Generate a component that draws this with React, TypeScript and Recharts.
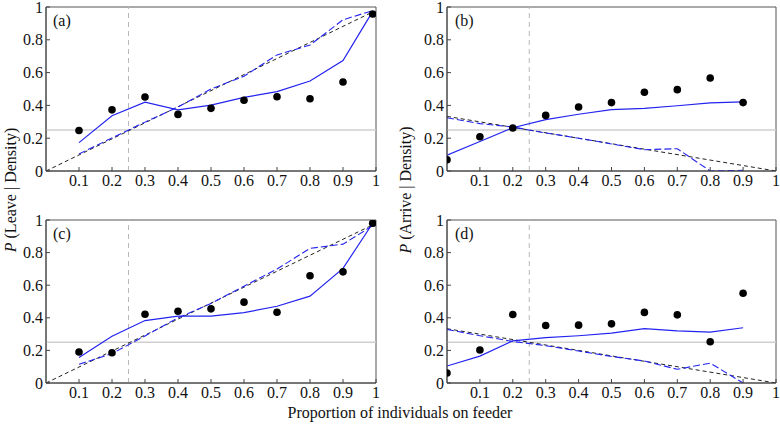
import React from 'react';
import { ComposedChart, Line, Scatter, XAxis, YAxis, ReferenceLine, ReferenceArea } from 'recharts';

// Categories (proportion of individuals on feeder)
const leaveX = [0.1, 0.2, 0.3, 0.4, 0.5, 0.6, 0.7, 0.8, 0.9, 0.99];
const arriveX = [0, 0.1, 0.2, 0.3, 0.4, 0.5, 0.6, 0.7, 0.8, 0.9];

// Panel (a)
const aObserved = [0.247, 0.373, 0.451, 0.345, 0.382, 0.431, 0.453, 0.441, 0.543, 0.957];
const aModel = [0.173, 0.337, 0.42, 0.373, 0.402, 0.449, 0.484, 0.549, 0.673, 0.973];
const aNull = [0.104, 0.202, 0.298, 0.39, 0.5, 0.578, 0.708, 0.768, 0.922, 0.978];
// Panel (b)
const bObserved = [0.069, 0.209, 0.262, 0.339, 0.39, 0.417, 0.48, 0.496, 0.567, 0.417];
const bModel = [0.096, 0.18, 0.264, 0.313, 0.346, 0.374, 0.382, 0.398, 0.415, 0.421];
const bNull = [0.325, 0.289, 0.268, 0.232, 0.2, 0.165, 0.13, 0.136, 0, 0.004];
// Panel (c)
const cObserved = [0.19, 0.186, 0.422, 0.44, 0.455, 0.496, 0.434, 0.658, 0.682, 0.98];
const cModel = [0.156, 0.287, 0.383, 0.41, 0.41, 0.432, 0.471, 0.533, 0.703, 0.98];
const cNull = [0.115, 0.18, 0.289, 0.4, 0.488, 0.594, 0.699, 0.826, 0.852, 0.965];
// Panel (d)
const dObserved = [0.061, 0.202, 0.42, 0.353, 0.355, 0.363, 0.433, 0.418, 0.253, 0.551];
const dModel = [0.104, 0.165, 0.259, 0.278, 0.29, 0.306, 0.333, 0.32, 0.312, 0.339];
const dNull = [0.329, 0.29, 0.255, 0.229, 0.196, 0.163, 0.135, 0.084, 0.122, 0];

// Expected (black dashed) lines
const leaveExpX = [0, 0.99];
const leaveExpY = [0, 0.97];
const arriveExpX = [0, 1];
const arriveExpY = [0.333, 0];

// Ticks
const xTicks = [0.1, 0.2, 0.3, 0.4, 0.5, 0.6, 0.7, 0.8, 0.9, 1];
const xTickLabels = ['0.1', '0.2', '0.3', '0.4', '0.5', '0.6', '0.7', '0.8', '0.9', '1'];
const yTicks = [0, 0.2, 0.4, 0.6, 0.8, 1];
const yTickLabels = ['0', '0.2', '0.4', '0.6', '0.8', '1'];

const panelLabels = ['(a)', '(b)', '(c)', '(d)'];
const yLabels = ['(Leave | Density)', '(Arrive | Density)'];
const xLabel = 'Proportion of individuals on feeder';

const FONT = '"Liberation Serif", "DejaVu Serif", serif';
const BLUE = '#2323f0';

const zip = (xs: number[], ys: number[]) => xs.map((x, i) => ({ x, y: ys[i] }));

type PanelProps = {
  left: number; top: number; width: number; height: number;
  margin: { top: number; right: number; bottom: number; left: number };
  xs: number[]; observed: number[]; model: number[]; nul: number[];
  expX: number[]; expY: number[];
};

const tickStyle = { fontFamily: FONT, fontSize: 16, fill: '#111' };

function Panel(p: PanelProps) {
  const obs = zip(p.xs, p.observed);
  const mod = zip(p.xs, p.model);
  const nl = zip(p.xs, p.nul);
  const exp = zip(p.expX, p.expY);
  return (
    <div style={{ position: 'absolute', left: p.left, top: p.top }}>
      <ComposedChart width={p.width} height={p.height} margin={p.margin} style={{ fontFamily: FONT }}>
        <XAxis
          type="number" dataKey="x" domain={[0, 1]} ticks={xTicks} allowDataOverflow
          tickFormatter={(v: number) => xTickLabels[xTicks.indexOf(v)] ?? String(v)}
          tick={tickStyle} tickSize={-4} tickMargin={8} height={25}
          axisLine={{ stroke: '#444' }} tickLine={{ stroke: '#444' }} interval={0}
        />
        <YAxis
          type="number" dataKey="y" domain={[0, 1]} ticks={yTicks} allowDataOverflow
          tickFormatter={(v: number) => yTickLabels[yTicks.indexOf(v)] ?? String(v)}
          tick={tickStyle} tickSize={-4} tickMargin={7} width={40}
          axisLine={{ stroke: '#444' }} tickLine={{ stroke: '#444' }} interval={0}
        />
        <ReferenceLine y={0.25} stroke="#cfcfcf" strokeWidth={1.5} />
        <ReferenceLine x={0.25} stroke="#b8b8b8" strokeDasharray="5 4" />
        <ReferenceArea x1={0} x2={1} y1={0} y2={1} fill="none" stroke="#555" strokeWidth={1} />
        <Line data={exp} dataKey="y" stroke="#222" strokeWidth={1} strokeDasharray="4 3" dot={false} isAnimationActive={false} />
        <Line data={nl} dataKey="y" stroke={BLUE} strokeWidth={1.1} strokeDasharray="7 3" dot={false} isAnimationActive={false} />
        <Line data={mod} dataKey="y" stroke={BLUE} strokeWidth={1.2} dot={false} isAnimationActive={false} />
        <Scatter data={obs} dataKey="y" fill="#000" isAnimationActive={false}
          shape={(props: any) => <circle cx={props.cx} cy={props.cy} r={3.8} fill="#000" />} />
      </ComposedChart>
    </div>
  );
}

export default function App() {
  return (
    <div style={{ position: 'absolute', left: 0, top: 0, width: 780, height: 424, background: '#fff' }}>
      <Panel left={0} top={0} width={390} height={200}
        margin={{ top: 7, right: 14, bottom: 4, left: 6 }}
        xs={leaveX} observed={aObserved} model={aModel} nul={aNull} expX={leaveExpX} expY={leaveExpY} />
      <Panel left={390} top={0} width={390} height={200}
        margin={{ top: 7, right: 4, bottom: 4, left: 17 }}
        xs={arriveX} observed={bObserved} model={bModel} nul={bNull} expX={arriveExpX} expY={arriveExpY} />
      <Panel left={0} top={200} width={390} height={224}
        margin={{ top: 20, right: 14, bottom: 16, left: 6 }}
        xs={leaveX} observed={cObserved} model={cModel} nul={cNull} expX={leaveExpX} expY={leaveExpY} />
      <Panel left={390} top={200} width={390} height={224}
        margin={{ top: 20, right: 4, bottom: 16, left: 17 }}
        xs={arriveX} observed={dObserved} model={dModel} nul={dNull} expX={arriveExpX} expY={arriveExpY} />
      <svg width={780} height={424} style={{ position: 'absolute', left: 0, top: 0, pointerEvents: 'none' }}>
        <g fontFamily={FONT} fontSize={16} fill="#111">
          <text x={53} y={26}>{panelLabels[0]}</text>
          <text x={455} y={26}>{panelLabels[1]}</text>
          <text x={53} y={239}>{panelLabels[2]}</text>
          <text x={455} y={239}>{panelLabels[3]}</text>
          <text x={400} y={418} textAnchor="middle">{xLabel}</text>
          <text transform="translate(16,190) rotate(-90)" textAnchor="middle">
            <tspan fontStyle="italic">P</tspan> {yLabels[0]}
          </text>
          <text transform="translate(411,190) rotate(-90)" textAnchor="middle">
            <tspan fontStyle="italic">P</tspan> {yLabels[1]}
          </text>
        </g>
      </svg>
    </div>
  );
}
